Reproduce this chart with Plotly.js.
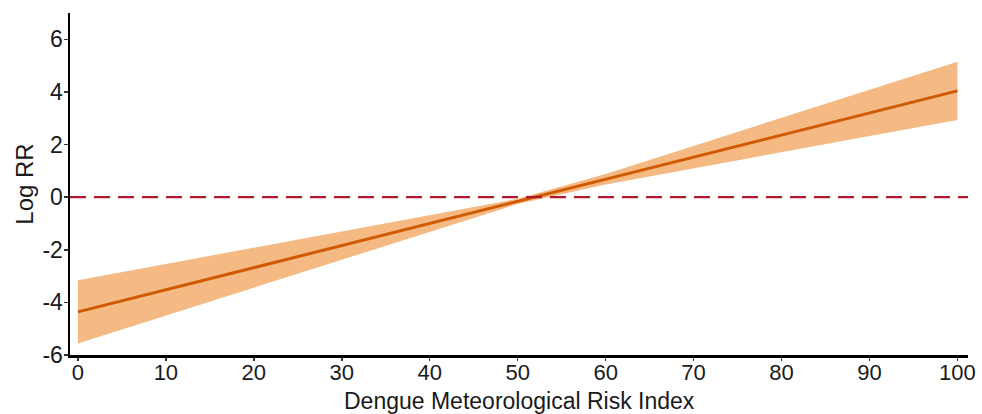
<!DOCTYPE html>
<html>
<head>
<meta charset="utf-8">
<script src="https://cdn.plot.ly/plotly-3.0.1.min.js"></script>
<style>html,body{margin:0;padding:0;background:#fff}#chart{width:982px;height:414px}</style>
</head>
<body>
<div id="chart"></div>
<script>
// Data
const riskIndex = [0, 10, 20, 30, 40, 50, 60, 70, 80, 90, 100];
const logRR     = [-4.36, -3.52, -2.68, -1.84, -1.00, -0.16, 0.68, 1.52, 2.36, 3.20, 4.04];
const upperCI   = [-3.16, -2.54, -1.93, -1.31, -0.69, -0.06, 0.88, 1.94, 3.01, 4.08, 5.15];
const lowerCI   = [-5.56, -4.50, -3.43, -2.37, -1.31, -0.26, 0.48, 1.10, 1.71, 2.32, 2.93];
const refY = 0;

const xTickVals = [0, 10, 20, 30, 40, 50, 60, 70, 80, 90, 100];
const xTickText = ['0', '10', '20', '30', '40', '50', '60', '70', '80', '90', '100'];
const yTickVals = [-6, -4, -2, 0, 2, 4, 6];
const yTickText = ['-6', '-4', '-2', '0', '2', '4', '6'];
const xTitle = 'Dengue Meteorological Risk Index';
const yTitle = 'Log RR';

const xRange = [-0.9, 101.2];

const traces = [
  {x: riskIndex, y: lowerCI, mode: 'lines', line: {width: 0}, hoverinfo: 'skip', showlegend: false},
  {x: riskIndex, y: upperCI, mode: 'lines', line: {width: 0}, fill: 'tonexty', fillcolor: '#F5B983', hoverinfo: 'skip', showlegend: false},
  {x: riskIndex, y: logRR, mode: 'lines', line: {color: '#D05A00', width: 3}, showlegend: false},
  {x: xRange, y: [refY, refY], mode: 'lines', line: {color: '#B2182B', width: 2.2, dash: '16px,8px'}, showlegend: false}
];

function f(sz) { return {family: 'Liberation Sans, Arial, sans-serif', size: sz, color: '#1a1a1a'}; }
const layout = {
  width: 982, height: 414,
  margin: {l: 70, r: 14, t: 13, b: 59},
  paper_bgcolor: '#fff', plot_bgcolor: '#fff',
  font: f(22),
  showlegend: false,
  xaxis: {
    range: xRange, tickvals: xTickVals, ticktext: xTickText, ticks: 'outside', ticklen: 3, tickwidth: 1.5, tickcolor: '#333',
    ticklabelstandoff: -7,
    showline: true, linecolor: '#000', linewidth: 2.5, showgrid: false, zeroline: false,
    tickfont: f(22)
  },
  yaxis: {
    range: [-6, 7], tickvals: yTickVals, ticktext: yTickText, ticks: 'outside', ticklen: 4, tickwidth: 1.5, tickcolor: '#333',
    ticklabelstandoff: -4,
    showline: true, linecolor: '#000', linewidth: 2.5, showgrid: false, zeroline: false,
    tickfont: f(23),
    title: {text: yTitle, font: f(24), standoff: 2}
  },
  annotations: [
    {text: xTitle, xref: 'paper', yref: 'paper', x: 0.5, y: -0.135, xanchor: 'center', yanchor: 'middle',
     showarrow: false, font: f(23)}
  ]
};
Plotly.newPlot('chart', traces, layout, {displayModeBar: false, staticPlot: true});
</script>
</body>
</html>
